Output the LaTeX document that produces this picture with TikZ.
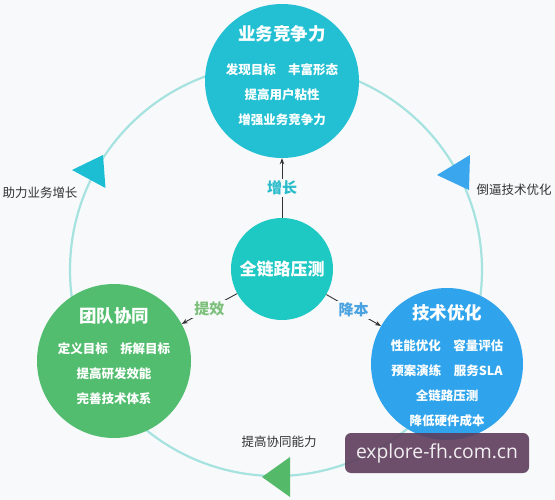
\documentclass[tikz,border=0pt]{standalone}
\usepackage{fontspec}
\setmainfont{Noto Sans CJK SC}
\newfontfamily\wmfont{Open Sans}
\usetikzlibrary{positioning,arrows.meta}

\definecolor{paper}{HTML}{F8F9FB}
\definecolor{ringline}{HTML}{A6E3E0}
\definecolor{bizcyan}{HTML}{22C0D2}
\definecolor{hubteal}{HTML}{1EC8C3}
\definecolor{teamgreen}{HTML}{52BD6E}
\definecolor{techblue}{HTML}{2FA4EC}
\definecolor{tipcyan}{HTML}{1BBED3}
\definecolor{tipblue}{HTML}{3AA6EE}
\definecolor{tipgreen}{HTML}{55B96A}
\definecolor{tagcyan}{HTML}{2BBCCB}
\definecolor{taggreen}{HTML}{7CC07C}
\definecolor{tagblue}{HTML}{4AA3E0}
\definecolor{inkgray}{HTML}{333333}
\definecolor{wmpurple}{HTML}{5E3D5C}
\newcommand\balltitlefont{\bfseries\fontsize{17.5}{20}\selectfont}

\begin{document}
\begin{tikzpicture}[x=1pt,y=-1pt,
  ball/.style={circle,minimum size=#1,inner sep=0pt},
  ballcap/.style={text=white,align=center,font=\bfseries\fontsize{12.5}{25}\selectfont},
  link/.style={draw=inkgray,line width=0.9pt,-{Stealth[length=6pt,width=4.5pt]}},
  tag/.style={fill=paper,inner sep=2pt,font=\bfseries\fontsize{15}{15}\selectfont},
  side/.style={text=inkgray,font=\fontsize{12.5}{14}\selectfont},
  wm/.style={rounded corners=6pt,fill=wmpurple,fill opacity=0.9,text opacity=1,text=white!92!wmpurple,
    minimum width=184pt,minimum height=40pt,font=\wmfont\fontsize{19.3}{19}\selectfont}]
   \fill[paper] (0,0) rectangle (555,500);
   \useasboundingbox (0,0) rectangle (555,500);
   % outer loop
   \draw[ringline,line width=2.2pt] (276,270) circle[radius=206];
   \fill[tipcyan ] (72,170) -- (103,155) -- (105.5,188) -- cycle;
   \fill[tipblue ] (437,175) -- (470,155) -- (469,190) -- cycle;
   \fill[tipgreen] (262,477) -- (290,457) -- (290,497) -- cycle;
   % circles
   \node[ball=102pt,fill=hubteal  ] (hub)  at (282,269) {};
   \node[ball=154pt,fill=bizcyan  ] (biz)  at (282,81)  {};
   \node[ball=154pt,fill=teamgreen] (team) at (114,361) {};
   \node[ball=152pt,fill=techblue ] (tech) at (447,364) {};
   \node[ballcap,font=\bfseries\fontsize{17}{20}\selectfont] at (hub) {全链路压测};
   \node[ballcap] at (282,76) {{\balltitlefont 业务竞争力}\\[9pt]
      发现目标\quad 丰富形态\\ 提高用户粘性\\ 增强业务竞争力};
   \node[ballcap] at (114,356) {{\balltitlefont 团队协同}\\[6pt]
      定义目标\quad 拆解目标\\ 提高研发效能\\ 完善技术体系};
   \node[ballcap] at (447,366) {{\balltitlefont 技术优化}\\[6pt]
      性能优化\quad 容量评估\\ 预案演练\quad 服务SLA\\ 全链路压测\\ 降低硬件成本};
   % spokes
   \draw[link] (hub) -- node[tag,text=tagcyan ] {增长} (biz);
   \draw[link] (hub) -- node[tag,text=taggreen] {提效} (team);
   \draw[link] (hub) -- node[tag,text=tagblue ] {降本} (tech);
   % loop labels
   \node[side] (grow) at (40,193)  {助力业务增长};
   \node[side] (push) at (514,190) {倒逼技术优化};
   \node[side] (coop) at (279,442) {提高协同能力};
   \node[wm] (mark) at (437,453) {explore-fh.com.cn};
\end{tikzpicture}
\end{document}
